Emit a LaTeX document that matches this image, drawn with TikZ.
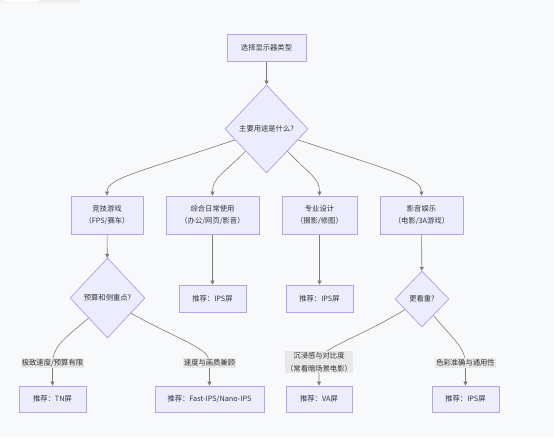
\documentclass[tikz,border=0pt]{standalone}
\usepackage{fontspec}
\setmainfont{Noto Sans CJK SC}
\usetikzlibrary{shapes.geometric,arrows.meta}
\definecolor{bgc}{HTML}{F8F9FB}
\definecolor{boxfill}{HTML}{ECECFF}
\definecolor{boxline}{HTML}{B8A2EC}
\definecolor{edgec}{HTML}{7C7C7C}
\definecolor{txt}{HTML}{333333}
\definecolor{lblbg}{HTML}{E8E8EA}
\pgfdeclarelayer{bglayer}
\pgfdeclarelayer{edgelayer}
\pgfsetlayers{bglayer,edgelayer,main}
\tikzset{
  box/.style={draw=boxline, fill=boxfill, line width=0.8pt, inner sep=0pt, align=center, text=txt,
    font=\fontsize{7.3pt}{12.7pt}\selectfont},
  dia/.style={shape=diamond, draw=boxline, fill=boxfill, line width=0.8pt, inner sep=0pt, align=center, text=txt,
    font=\fontsize{7.3pt}{12.7pt}\selectfont},
  edge/.style={draw=edgec, line width=0.6pt, -{Triangle[length=4pt,width=4pt]}},
  lbl/.style={fill=lblbg, inner xsep=1pt, inner ysep=1.5pt, align=center, text=txt,
    font=\fontsize{7.3pt}{12.7pt}\selectfont}
}
\begin{document}
\begin{tikzpicture}[x=1pt,y=-1pt]
\useasboundingbox (0,0) rectangle (554,437);
\begin{pgfonlayer}{bglayer}
\fill[bgc] (0,0) rectangle (554,437);
\fill[gray!12, rounded corners=3pt] (0,-8) rectangle (80,3);
\fill[white, rounded corners=3pt] (3,-8) rectangle (40,2);
\end{pgfonlayer}

% nodes
\node[box, minimum width=79pt, minimum height=27pt] (top) at (266.5,47.5) {选择显示器类型};
\node[dia, minimum width=83pt, minimum height=88pt] (d1) at (266.5,129) {主要用途是什么?};

\node[box, minimum width=72pt, minimum height=38pt] (A) at (107,215) {竞技游戏\\（FPS/赛车）};
\node[box, minimum width=93pt, minimum height=38pt] (B) at (212.5,215) {综合日常使用\\（办公/网页/影音）};
\node[box, minimum width=75pt, minimum height=38pt] (C) at (319.5,215) {专业设计\\（摄影/修图）};
\node[box, minimum width=83pt, minimum height=38pt] (D) at (421.5,215) {影音娱乐\\（电影/3A游戏）};

\node[dia, minimum width=75pt, minimum height=80pt] (d2) at (107.5,298) {预算和侧重点?};
\node[box, minimum width=67pt, minimum height=27pt] (ipsB) at (212.5,298.5) {推荐：IPS屏};
\node[box, minimum width=67pt, minimum height=27pt] (ipsC) at (319.5,298.5) {推荐：IPS屏};
\node[dia, minimum width=54pt, minimum height=56pt] (d3) at (422,299) {更看重?};

\node[box, minimum width=67pt, minimum height=26pt] (tn) at (52.5,399) {推荐：TN屏};
\node[box, minimum width=109pt, minimum height=26pt] (fast) at (209.5,399) {推荐：Fast-IPS/Nano-IPS};
\node[box, minimum width=66pt, minimum height=26pt] (va) at (319,399) {推荐：VA屏};
\node[box, minimum width=67pt, minimum height=26pt] (ips4) at (465.5,399) {推荐：IPS屏};

\node[lbl] (l1) at (52.5,363) {极致速度/预算有限};
\node[lbl] (l2) at (209.5,363) {速度与画质兼顾};
\node[lbl] (l3) at (319,362) {沉浸感与对比度\\（常看暗场景电影）};
\node[lbl] (l4) at (465.5,363) {色彩准确与通用性};

% edges
\begin{pgfonlayer}{edgelayer}
\draw[edge] (top) -- (d1);
\draw[edge] (d1.199) .. controls (140,172) and (107,178) .. (A.north);
\draw[edge] (d1.south west) .. controls (222,175) and (212.5,178) .. (B.north);
\draw[edge] (d1.south east) .. controls (310,175) and (319.5,178) .. (C.north);
\draw[edge] (d1.341) .. controls (395,172) and (421.5,178) .. (D.north);

\draw[edge] (A) -- (d2);
\draw[edge] (B) -- (ipsB);
\draw[edge] (C) -- (ipsC);
\draw[edge] (D) -- (d3);

\draw[edge] (d2.south west) .. controls (62,340) and (52.5,348) .. (l1.center) -- (tn);
\draw[edge] (d2.327) .. controls (185,343) and (209.5,348) .. (l2.center) -- (fast);
\draw[edge] (d3.212) .. controls (355,340) and (319,348) .. (l3.center) -- (va);
\draw[edge] (d3.305) .. controls (452,338) and (465.5,348) .. (l4.center) -- (ips4);
\end{pgfonlayer}
\end{tikzpicture}
\end{document}
